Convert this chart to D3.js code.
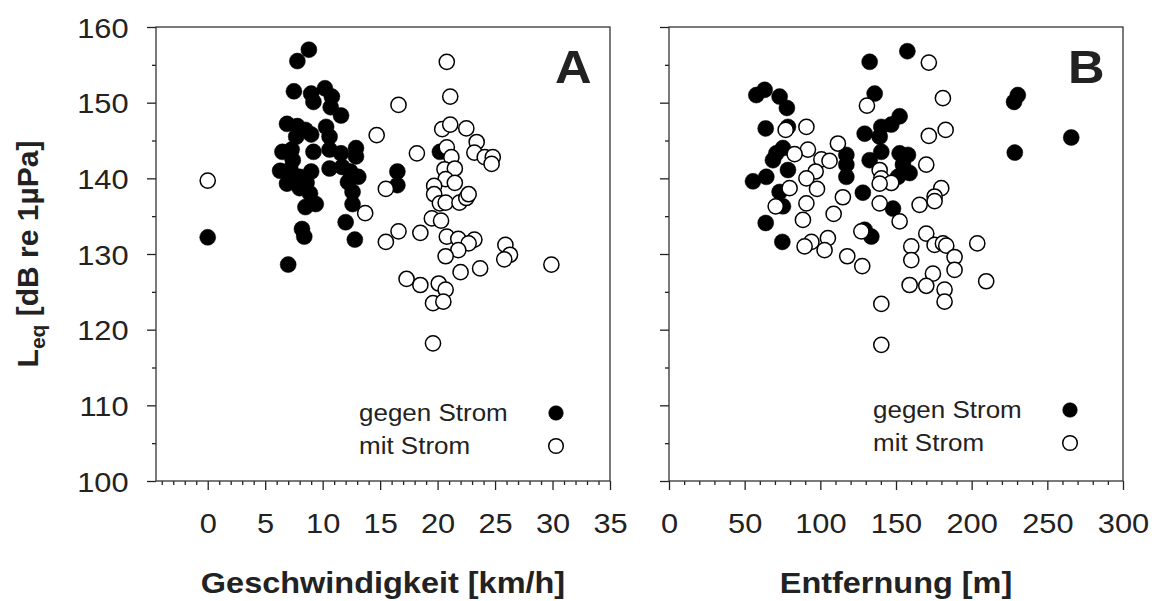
<!DOCTYPE html>
<meta charset="utf-8">
<head>
  <title>Leq vs speed and distance</title>
</head>
<style>
body { margin: 0; background: #fff; }
text { font-family: "Liberation Sans", Arial, sans-serif; fill: #222; }
.frame { fill: none; stroke: #333; stroke-width: 1.3px; }
.tick line { stroke: #222; stroke-width: 1.3px; }
.domain { display: none; }
.dot-against { fill: #000; stroke: #000; stroke-width: 0.5px; }
.dot-with { fill: #fff; stroke: #000; stroke-width: 1.5px; }
</style>
<body>
  <svg width="1154" height="601"></svg>
  <script src="https://cdnjs.cloudflare.com/ajax/libs/d3/7.8.5/d3.min.js"></script>
  <script>
// panel A: [speed km/h, Leq dB]
var speedAgainst = [
  [8.8,157.0],[7.8,155.5],[7.5,151.5],[9.0,151.2],[10.2,151.9],[10.8,150.8],[9.2,150.1],[10.7,149.4],
  [11.6,148.3],[6.9,147.2],[7.8,146.9],[8.5,146.4],[9.0,145.8],[7.7,145.5],[10.3,146.8],[10.6,145.5],
  [6.5,143.5],[7.3,143.8],[9.2,143.5],[10.6,143.8],[11.6,143.3],[12.9,144.0],[12.9,142.9],[7.4,142.4],
  [6.3,141.0],[9.0,140.9],[10.6,141.3],[11.7,141.5],[12.4,140.9],[13.1,140.2],[6.9,139.3],[8.0,138.7],
  [8.9,138.0],[12.6,138.2],[8.5,136.2],[9.4,136.6],[12.6,136.6],[12.0,134.2],[8.2,133.3],[8.4,132.3],
  [12.8,131.9],[0,132.2],[7.0,128.6],[16.5,140.9],[16.5,139.1],[20.2,143.5],[8.0,140.2],[8.6,139.4],
  [7.2,141.2],[12.2,139.5]
];
var speedWith = [
  [0,139.7],[16.6,149.7],[14.7,145.7],[15.5,138.6],[13.7,135.4],[16.6,133.0],[15.5,131.6],[20.8,155.4],
  [21.1,150.8],[18.2,143.3],[20.4,146.5],[21.1,147.1],[22.5,146.6],[23.4,144.8],[23.2,143.4],[24.1,142.8],
  [24.8,142.8],[24.7,141.9],[20.8,144.1],[21.2,142.8],[20.6,141.2],[21.5,141.3],[20.7,139.9],[21.5,139.4],
  [19.7,139.0],[19.7,137.9],[20.2,136.7],[20.7,136.8],[21.9,136.8],[22.5,137.4],[22.7,137.9],[19.5,134.7],
  [20.3,134.4],[18.5,132.8],[20.8,132.3],[21.8,132.0],[23.2,131.9],[22.7,131.4],[21.8,130.5],[20.7,129.7],
  [25.9,131.2],[26.3,129.9],[25.8,129.3],[29.9,128.6],[22.0,127.6],[23.7,128.1],[17.3,126.7],[18.5,125.9],
  [20.1,126.1],[20.7,125.3],[19.6,123.5],[20.5,123.7],[19.6,118.2]
];
// panel B: [distance m, Leq dB]
var distAgainst = [
  [157.5,156.8],[132.6,155.4],[135.9,151.2],[57.7,151.0],[63.2,151.7],[73.1,150.8],[77.9,149.3],[63.9,146.6],
  [78.6,146.8],[152.4,148.2],[146.9,147.1],[140.3,146.8],[129.3,145.9],[139.2,145.5],[70.9,143.3],[75.3,144.0],
  [68.7,142.4],[78.6,141.1],[55.5,139.6],[64.3,140.2],[117.2,143.1],[117.2,141.8],[117.2,140.2],[132.6,142.4],
  [140.3,143.5],[152.4,143.3],[157.9,143.1],[154.6,141.8],[159.0,140.7],[151.3,140.2],[146.9,139.4],[128.1,138.1],
  [73.1,138.2],[75.3,136.3],[148.0,136.0],[63.9,134.1],[74.9,131.6],[133.7,132.3],[129.3,133.2],[228.0,150.1],
  [230.5,151.0],[265.8,145.4],[228.5,143.4]
];
var distWith = [
  [171.7,155.3],[181.0,150.6],[130.8,149.6],[77.1,146.4],[90.8,146.8],[182.8,146.4],[171.7,145.6],[111.6,144.6],
  [91.8,143.8],[83.0,143.2],[100.7,142.5],[106.1,142.3],[96.9,140.9],[90.8,140.0],[170.0,141.8],[139.2,141.1],
  [140.3,140.0],[146.9,139.4],[139.2,139.3],[79.7,138.7],[97.8,138.6],[179.9,138.7],[175.5,137.6],[114.9,137.5],
  [70.5,136.3],[90.8,136.7],[139.2,136.7],[165.6,136.5],[175.5,137.0],[108.8,135.3],[88.5,134.5],[152.4,134.3],
  [127.1,133.0],[105.0,132.1],[94.1,131.6],[89.6,131.0],[102.8,130.5],[160.1,131.0],[170.0,132.7],[175.5,131.2],
  [181.0,131.4],[183.2,131.1],[203.7,131.4],[160.1,129.2],[117.8,129.7],[127.7,128.4],[188.7,129.6],[188.7,127.9],
  [174.4,127.4],[159.0,125.9],[170.0,125.8],[209.6,126.4],[182.1,125.3],[182.1,123.7],[140.3,123.4],[140.3,118.0]
];

var speedTicks = [0, 5, 10, 15, 20, 25, 30, 35];
var distTicks = [0, 50, 100, 150, 200, 250, 300];
var leqTicks = [100, 110, 120, 130, 140, 150, 160];
var legendLabels = ["gegen Strom", "mit Strom"];

var svg = d3.select('svg');
var plotTop = 27, size = 454;
var SX = 1.1; // the original glyphs are a bit wide

var y = d3.scaleLinear().domain([100, 160]).range([plotTop + size, plotTop]);
var xA = d3.scaleLinear().domain([-4.5, 35]).range([156, 156 + size]);
var xB = d3.scaleLinear().domain([0, 300]).range([669, 669 + size]);

function wideText(g, x, yy, str, fs, weight, anchor, sx) {
  return g.append('g')
    .attr('transform', 'translate(' + x + ',' + yy + ') scale(' + (sx || SX) + ',1)')
    .append('text')
    .attr('font-size', fs)
    .attr('font-weight', weight || 'normal')
    .attr('text-anchor', anchor || 'start')
    .text(str);
}

function panel(x, majorX, minorX, against, withCur, showYLabels, letter, letterX, title, leg) {
  var g = svg.append('g');
  var bottom = plotTop + size;

  // minor ticks
  g.append('g').attr('transform', 'translate(0,' + bottom + ')')
    .call(d3.axisBottom(x).tickValues(minorX).tickSize(4).tickFormat(''));
  g.append('g').attr('transform', 'translate(' + x.range()[0] + ',0)')
    .call(d3.axisLeft(y).tickValues(d3.range(105, 160, 10)).tickSize(4).tickFormat(''));

  // major ticks
  var ax = g.append('g').attr('transform', 'translate(0,' + bottom + ')')
    .call(d3.axisBottom(x).tickValues(majorX).tickSize(9));
  ax.selectAll('text')
    .attr('y', 52).attr('dy', null)
    .attr('font-size', 28)
    .attr('transform', 'scale(' + SX + ',1)')
    .style('font-family', '"Liberation Sans", Arial, sans-serif').style('fill', '#222');

  var ay = g.append('g').attr('transform', 'translate(' + x.range()[0] + ',0)')
    .call(d3.axisLeft(y).tickValues(leqTicks).tickSize(9)
      .tickFormat(showYLabels ? d3.format('d') : ''));
  ay.selectAll('text')
    .attr('x', -25).attr('dy', '0.36em')
    .attr('font-size', 28)
    .attr('transform', 'scale(' + SX + ',1)')
    .style('font-family', '"Liberation Sans", Arial, sans-serif').style('fill', '#222');

  g.append('rect').attr('class', 'frame')
    .attr('x', x.range()[0]).attr('y', plotTop)
    .attr('width', size).attr('height', size);

  // points: filled first, open on top
  g.append('g').selectAll('circle').data(against).enter().append('circle')
    .attr('class', 'dot-against')
    .attr('cx', function(d) { return x(d[0]); })
    .attr('cy', function(d) { return y(d[1]); })
    .attr('r', 8);
  g.append('g').selectAll('circle').data(withCur).enter().append('circle')
    .attr('class', 'dot-with')
    .attr('cx', function(d) { return x(d[0]); })
    .attr('cy', function(d) { return y(d[1]); })
    .attr('r', 7.6);

  // panel letter
  wideText(g, letterX, 83, letter, 46, 'bold');

  // legend
  var lx = x.range()[0] + leg.dx;
  legendLabels.forEach(function(lab, i) {
    var by = leg.y0 + i * 33;
    wideText(g, lx, by, lab, 23, 'normal', 'start', 1.13);
    g.append('circle')
      .attr('class', i === 0 ? 'dot-against' : 'dot-with')
      .attr('cx', lx + 197).attr('cy', by - 8)
      .attr('r', 7.3);
  });

  // x title
  wideText(g, (x.range()[0] + x.range()[1]) / 2, 593, title, 29, 'bold', 'middle', 1.12);
}

panel(xA, speedTicks, d3.range(-4, 35).filter(function(v) { return v % 5 !== 0; }),
  speedAgainst, speedWith, true, 'A', 555, 'Geschwindigkeit [km/h]', { dx: 203, y0: 421 });
panel(xB, distTicks, d3.range(10, 300, 10).filter(function(v) { return v % 50 !== 0; }),
  distAgainst, distWith, false, 'B', 1068, 'Entfernung [m]', { dx: 204, y0: 418 });

// y title
var yt = svg.append('text')
  .attr('transform', 'translate(38,' + (plotTop + size / 2) + ') rotate(-90)')
  .attr('text-anchor', 'middle')
  .attr('font-size', 30)
  .attr('font-weight', 'bold');
yt.append('tspan').text('L');
yt.append('tspan').attr('font-size', 21).attr('dy', 7).text('eq');
yt.append('tspan').attr('dy', -7).text(' [dB re 1\u00b5Pa]');
  </script>
</body>
